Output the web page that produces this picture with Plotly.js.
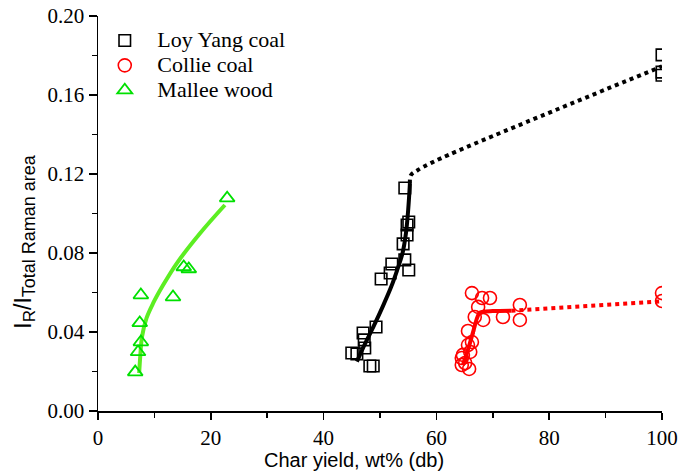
<!DOCTYPE html>
<html>
<head>
<meta charset="utf-8">
<script src="https://cdn.plot.ly/plotly-3.0.1.min.js"></script>
<style>html,body{margin:0;padding:0;background:#fff;}#chart{width:681px;height:474px;}</style>
</head>
<body>
<div id="chart"></div>
<script>
// Loy Yang coal (measured points)
const loyX = [54.4, 55.1, 54.8, 54.8, 54.1, 54.4, 55.1, 52.1, 51.8, 50.2, 49.3, 47.0, 47.2, 47.3, 45.0, 45.9, 48.2, 48.8, 100, 100, 100];
const loyY = [0.1129, 0.0957, 0.0942, 0.0891, 0.0846, 0.0765, 0.0714, 0.0744, 0.0699, 0.0668, 0.0425, 0.0395, 0.0360, 0.0319, 0.0294, 0.0289, 0.0228, 0.0228, 0.1803, 0.1716, 0.1700];
// Collie coal
const collieX = [66.3, 68.1, 69.5, 67.4, 74.8, 74.8, 71.8, 66.8, 68.3, 65.6, 66.3, 65.6, 66.0, 64.7, 64.5, 65.1, 64.5, 65.8, 100, 100];
const collieY = [0.0597, 0.0572, 0.0572, 0.0527, 0.0537, 0.0461, 0.0476, 0.0476, 0.0461, 0.0405, 0.0349, 0.0334, 0.0299, 0.0284, 0.0268, 0.0243, 0.0233, 0.0213, 0.0597, 0.0557];
// Mallee wood
const malleeX = [22.9, 15.2, 16.1, 7.6, 13.3, 7.4, 7.6, 7.1, 6.6];
const malleeY = [0.1078, 0.0729, 0.0719, 0.0587, 0.0577, 0.0446, 0.0349, 0.0299, 0.0197];

// Fitted trend lines
const loyFitX = [45.9, 47.0, 48.8, 50.5, 52.0, 53.0, 54.0, 54.6, 55.0, 55.3];
const loyFitY = [0.025, 0.032, 0.0425, 0.053, 0.063, 0.071, 0.080, 0.090, 0.102, 0.115];
const loyExtX = [55.3, 55.5, 56.6, 59.0, 63.7, 100];
const loyExtY = [0.115, 0.1195, 0.1218, 0.1255, 0.1316, 0.1745];
const collieFitX = [64.7, 65.6, 66.5, 67.2, 67.6, 68.3, 70.0, 73.3];
const collieFitY = [0.0233, 0.031, 0.040, 0.047, 0.0495, 0.0503, 0.0506, 0.0508];
const collieExtX = [73.3, 100];
const collieExtY = [0.0508, 0.0555];
const malleeFitX = [7.3, 7.5, 7.8, 8.6, 9.8, 11.6, 14.0, 18.1, 22.5];
const malleeFitY = [0.0192, 0.028, 0.0375, 0.047, 0.0547, 0.0640, 0.0749, 0.090, 0.1043];

const names = ['Loy Yang coal', 'Collie coal', 'Mallee wood'];
const xTicks = [0, 20, 40, 60, 80, 100];
const yTicks = [0.00, 0.04, 0.08, 0.12, 0.16, 0.20];

const BLACK = '#000000', RED = '#ff0000', GREEN = '#00e000', LIME = '#5cee22';

function leg(t){ return '\u00a0\u00a0\u00a0<span style="font-size:22px">' + t + '</span>'; }

const traces = [
  {x: loyFitX, y: loyFitY, mode: 'lines', line: {color: BLACK, width: 4, shape: 'spline'}, showlegend: false, hoverinfo: 'skip'},
  {x: loyExtX, y: loyExtY, mode: 'lines', line: {color: BLACK, width: 4, dash: 'dot', shape: 'spline'}, showlegend: false, hoverinfo: 'skip'},
  {x: collieFitX, y: collieFitY, mode: 'lines', line: {color: RED, width: 4, shape: 'spline'}, showlegend: false, hoverinfo: 'skip'},
  {x: collieExtX, y: collieExtY, mode: 'lines', line: {color: RED, width: 4, dash: 'dot'}, showlegend: false, hoverinfo: 'skip'},
  {x: malleeFitX, y: malleeFitY, mode: 'lines', line: {color: LIME, width: 4, shape: 'spline'}, showlegend: false, hoverinfo: 'skip'},
  {x: loyX, y: loyY, mode: 'markers', name: leg(names[0]), marker: {symbol: 'square-open', size: 11.5, color: BLACK, line: {width: 1.6, color: BLACK}}},
  {x: collieX, y: collieY, mode: 'markers', name: leg(names[1]), marker: {symbol: 'circle-open', size: 13, color: RED, line: {width: 1.6, color: RED}}},
  {x: malleeX, y: malleeY, mode: 'markers', name: leg(names[2]), marker: {symbol: 'triangle-up-open', size: 13, color: GREEN, line: {width: 1.8, color: GREEN}}}
];

const serif = 'Liberation Serif';
const sans = 'Liberation Sans';
const L = 98, R = 19, T = 16, B = 63;
const axisCommon = {ticks: 'outside', tickwidth: 1.5, tickcolor: '#000', showline: true, linecolor: '#000', linewidth: 1.5,
                    showgrid: false, zeroline: false};
const layout = {
  width: 681, height: 474,
  font: {family: serif, size: 21, color: '#000'},
  margin: {l: L, r: R, t: T, b: B, pad: 0},
  paper_bgcolor: '#fff', plot_bgcolor: '#fff',
  showlegend: true,
  legend: {x: 0.012, y: 0.982, xanchor: 'left', yanchor: 'top', bgcolor: 'rgba(0,0,0,0)',
           font: {family: serif, size: 16.8, color: '#000'}},
  xaxis: Object.assign({}, axisCommon, {range: [0, 100], tickvals: xTicks, ticktext: xTicks.map(String), ticklen: 7,
          tickfont: {family: serif, size: 21, color: '#000'},
          minor: {dtick: 10, ticks: 'outside', ticklen: 5, tickwidth: 1.5, tickcolor: '#000', showgrid: false}}),
  yaxis: Object.assign({}, axisCommon, {range: [0, 0.2], tickvals: yTicks, ticktext: yTicks.map(v => v.toFixed(2)), ticklen: 8,
          tickfont: {family: serif, size: 21, color: '#000'},
          minor: {dtick: 0.02, ticks: 'outside', ticklen: 5, tickwidth: 1.5, tickcolor: '#000', showgrid: false}}),
  xaxis2: Object.assign({}, axisCommon, {overlaying: 'x', side: 'top', anchor: 'y', range: [0, 100], tickvals: xTicks, ticks: 'inside', ticklen: 8,
           showticklabels: false,
           minor: {dtick: 10, ticks: 'inside', ticklen: 5, tickwidth: 1.5, tickcolor: '#000', showgrid: false}}),
  yaxis2: Object.assign({}, axisCommon, {overlaying: 'y', side: 'right', anchor: 'x', range: [0, 0.2], tickvals: yTicks, ticks: 'inside', ticklen: 8,
           showticklabels: false,
           minor: {dtick: 0.02, ticks: 'inside', ticklen: 5, tickwidth: 1.5, tickcolor: '#000', showgrid: false}}),
  annotations: [
    {text: 'Char yield, wt% (db)', xref: 'paper', yref: 'paper', x: 0.454, y: -0.125, xanchor: 'center', yanchor: 'middle',
     showarrow: false, font: {family: sans, size: 20, color: '#000'}},
    {text: 'I<sub><span style="font-size:17px">R</span></sub>/I<sub><span style="font-size:18px">Total Raman area</span></sub>',
     xref: 'paper', yref: 'paper', x: -0.131, y: 0.429, xanchor: 'center', yanchor: 'middle', textangle: -90,
     showarrow: false, font: {family: sans, size: 23, color: '#000'}}
  ]
};

Plotly.newPlot('chart', traces, layout, {displayModeBar: false, staticPlot: true});
</script>
</body>
</html>
